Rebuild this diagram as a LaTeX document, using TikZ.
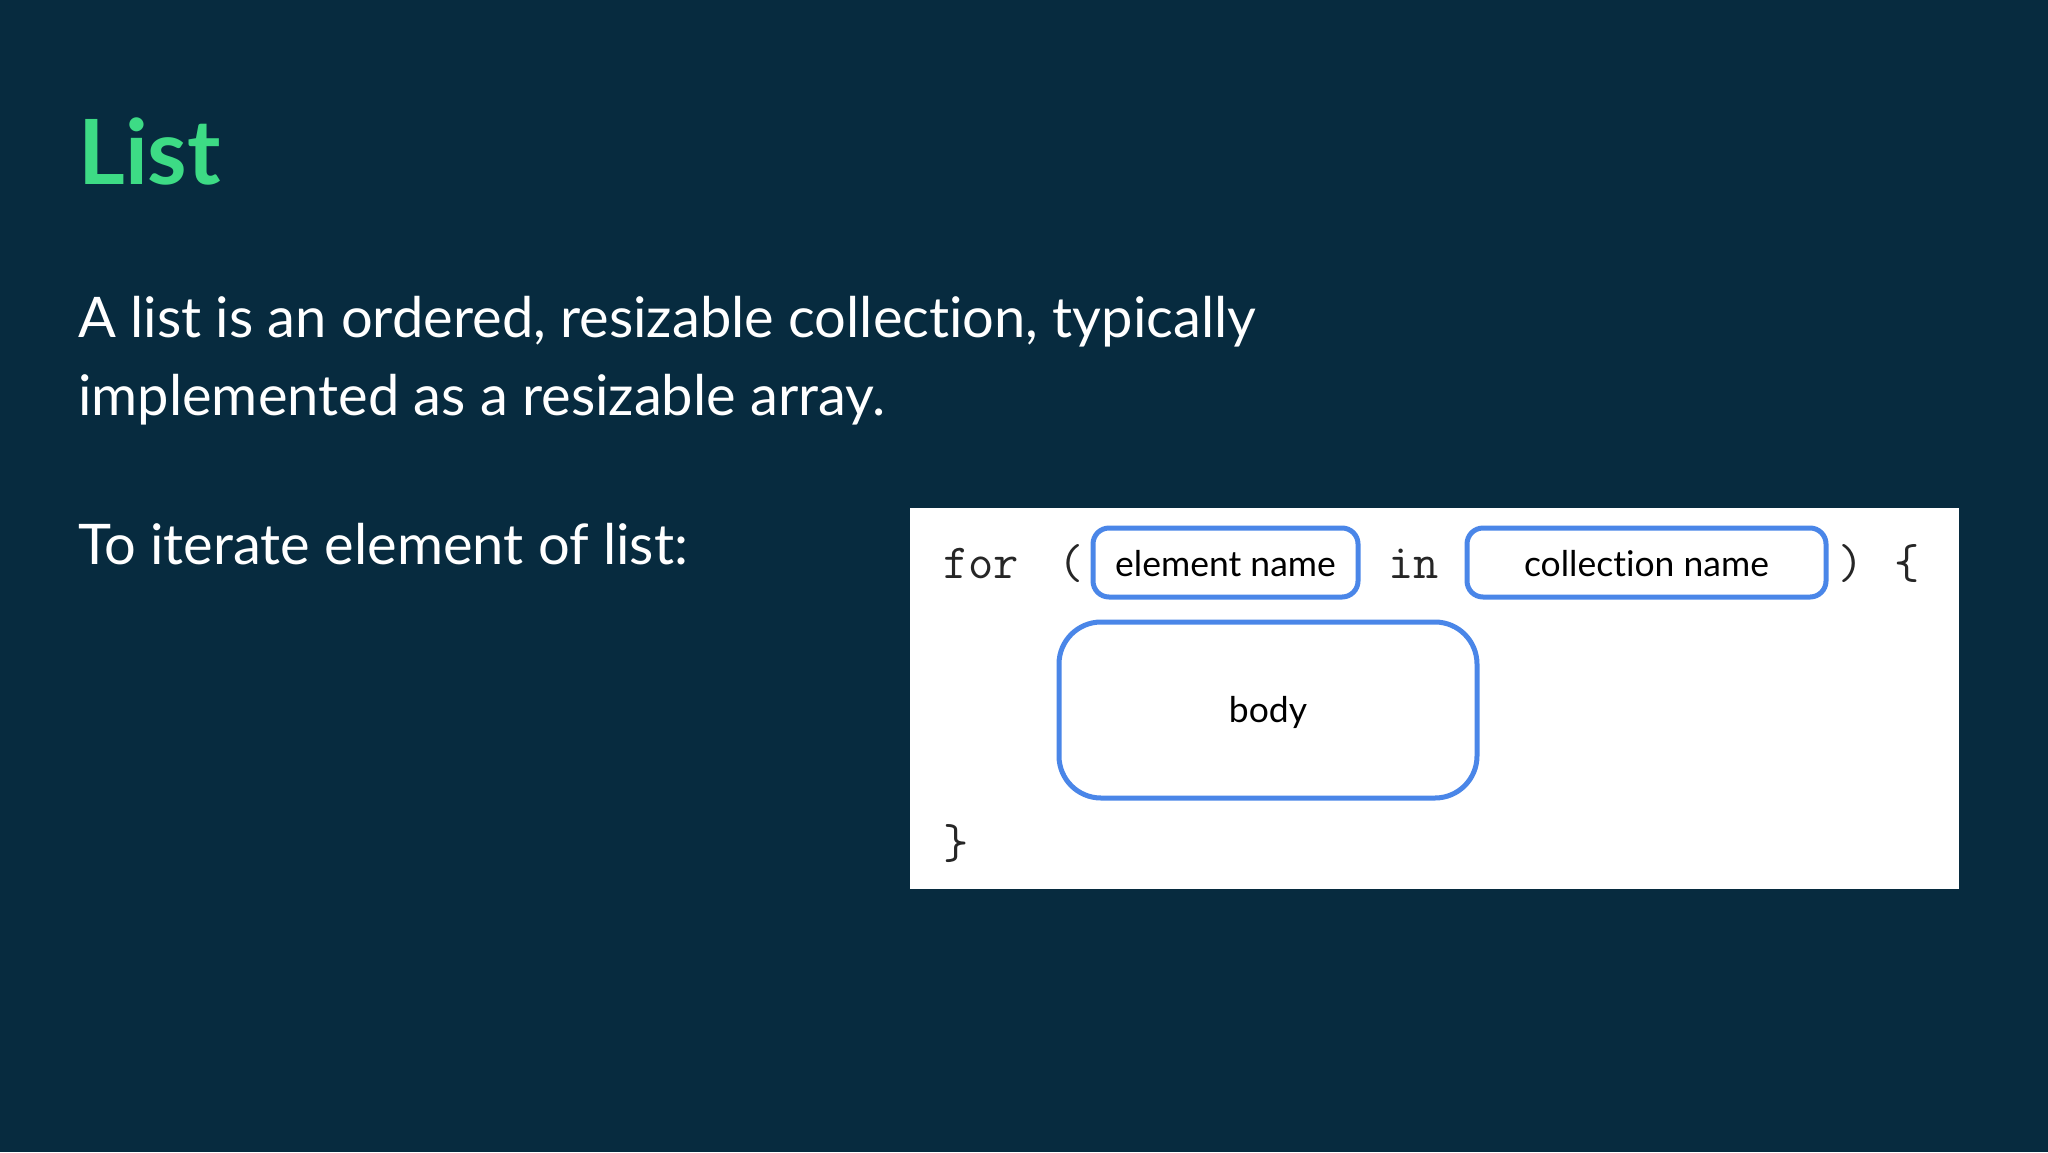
\documentclass[tikz,border=0pt]{standalone}
\usepackage{fontspec}
\setmainfont{Lato}[Ligatures=NoCommon]
\definecolor{bgnavy}{HTML}{072B3F}
\definecolor{titlegreen}{HTML}{3DDB85}
\definecolor{boxblue}{HTML}{4A86E8}
\begin{document}
\begin{tikzpicture}[x=1pt,y=-1pt,
  slidetext/.style={anchor=base west,inner sep=0pt,text=white,font=\fontsize{56}{60}\selectfont},
  codetext/.style={anchor=base west,inner sep=0pt,text=black!85,font=\ttfamily\fontsize{49}{52}\selectfont},
  fieldbox/.style={draw=boxblue,line width=5pt,rounded corners=16pt,fill=white},
  fieldlabel/.style={text=black,font=\fontsize{35.5}{38}\selectfont}]
\useasboundingbox (0,0) rectangle (2048,1152);
\fill[bgnavy] (0,0) rectangle (2048,1152);
\node[anchor=base west,inner sep=0pt,text=titlegreen,font=\bfseries\fontsize{90}{96}\selectfont] (title) at (78,184) {List};
\node[slidetext] (line1) at (78,337) {A list is an ordered, resizable collection, typically};
\node[slidetext] (line2) at (78,415) {implemented as a resizable array.};
\node[slidetext] (line3) at (78,564) {To iterate element of list:};
\fill[white] (910,508) rectangle (1959,889);
\node[codetext] (for) at (943,578) {for};
\node[codetext] (lpar) at (1058,578) {(};
\draw[fieldbox] (1093,528) rectangle (1358,597);
\node[fieldlabel] (elem) at (1225.5,564) {element name};
\node[codetext] (in) at (1388,578) {in};
\draw[fieldbox] (1467,528) rectangle (1826,597);
\node[fieldlabel] (coll) at (1646.5,564) {collection name};
\node[codetext] (rpar) at (1838,578) {)};
\node[codetext] (lbrace) at (1894,578) {\{};
\draw[fieldbox,rounded corners=42pt] (1059,622) rectangle (1477,798);
\node[fieldlabel] (body) at (1268,712) {body};
\node[codetext] (rbrace) at (943,858) {\}};
\end{tikzpicture}
\end{document}
